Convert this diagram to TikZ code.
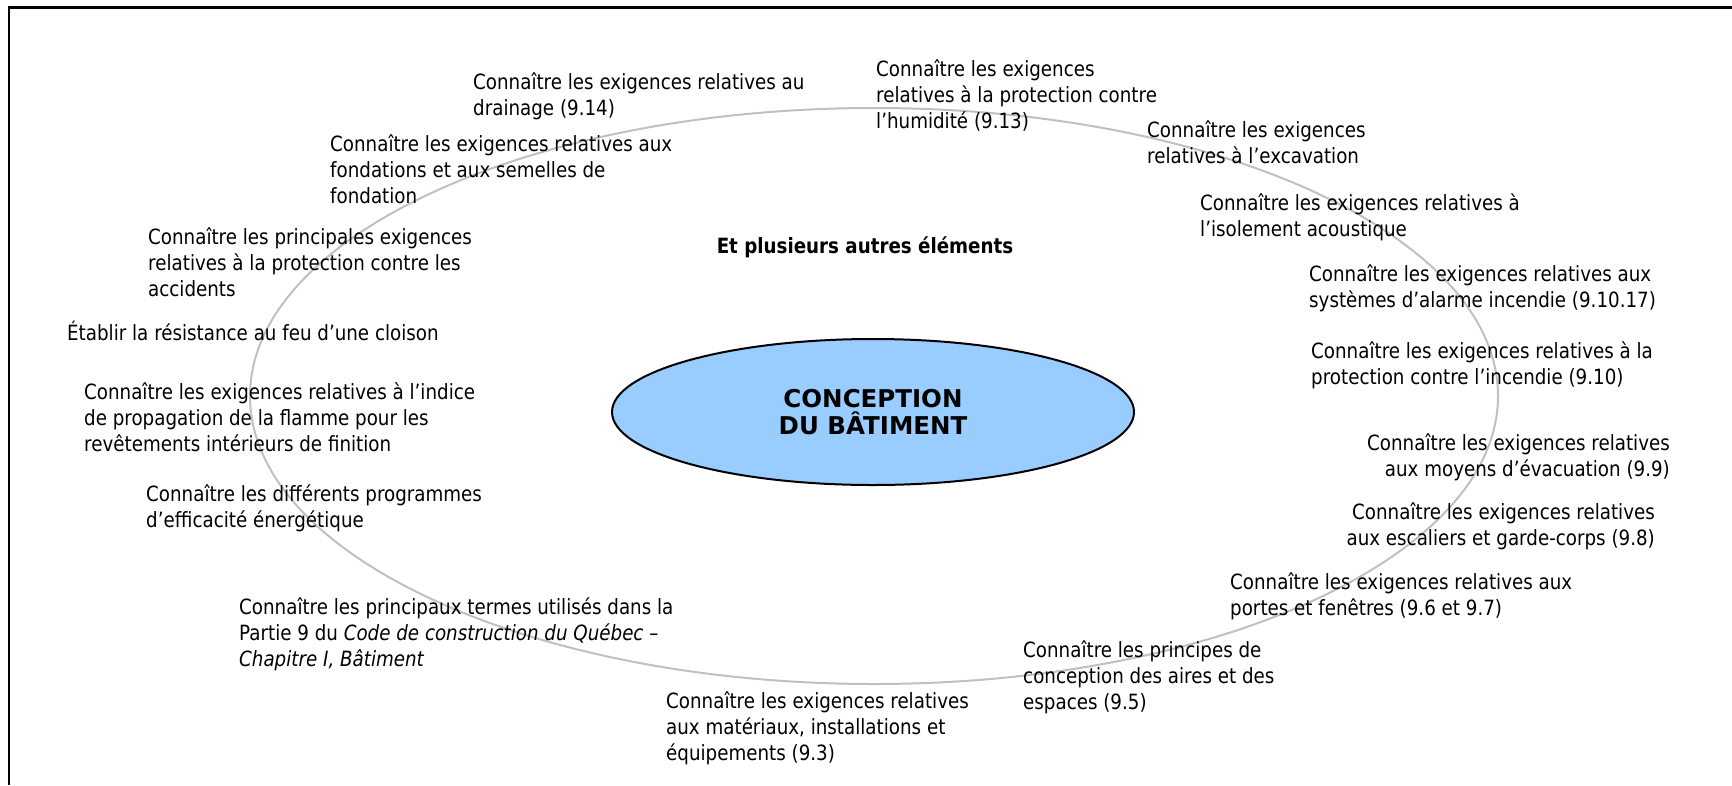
\documentclass[tikz,border=0pt]{standalone}
\usepackage{fontspec}
\setmainfont{DejaVu Sans}[FakeStretch=0.87]
\newfontfamily\corefont{DejaVu Sans}
\usetikzlibrary{shapes.geometric}
\definecolor{ringgrey}{HTML}{C0C0C0}
\definecolor{coreblue}{HTML}{99CCFF}
\begin{document}
\begin{tikzpicture}[x=1pt,y=-1pt,
  lbl/.style={inner sep=0pt, align=left, anchor=north west, font=\fontsize{21}{26}\selectfont},
  lblr/.style={inner sep=0pt, align=right, anchor=north east, font=\fontsize{21}{26}\selectfont},
  ringshape/.style={ellipse, draw=ringgrey, line width=2pt, inner sep=0pt, minimum width=1248pt, minimum height=576pt},
  coreshape/.style={ellipse, draw=black, line width=2pt, fill=coreblue, inner sep=0pt, minimum width=522pt, minimum height=146pt, align=center, font=\corefont\bfseries\fontsize{24.5}{27.5}\selectfont},
  framepen/.style={line width=2.5pt, draw=black}
]
\useasboundingbox (0,0) rectangle (1732,785);
\draw[framepen] (9,785) -- (9,7.5) -- (1732,7.5);
\node[ringshape] (ring) at (874,396) {};
\node[coreshape] (core) at (873,412) {CONCEPTION\\DU BÂTIMENT};
\node[inner sep=0pt, font=\bfseries\fontsize{21}{26}\selectfont] (autres) at (865,247) {Et plusieurs autres éléments};

\node[lbl] (drain) at (473,71.5) {\strut Connaître les exigences relatives au\\drainage (9.14)};
\node[lbl] (humid) at (876,58.5) {\strut Connaître les exigences\\relatives à la protection contre\\l’humidité (9.13)};
\node[lbl] (excav) at (1147,119.5) {\strut Connaître les exigences\\relatives à l’excavation};
\node[lbl] (acous) at (1200,192.5) {\strut Connaître les exigences relatives à\\l’isolement acoustique};
\node[lbl] (alarm) at (1309,263.5) {\strut Connaître les exigences relatives aux\\systèmes d’alarme incendie (9.10.17)};
\node[lbl] (incend) at (1311,340.5) {\strut Connaître les exigences relatives à la\\protection contre l’incendie (9.10)};
\node[lblr] (evac) at (1670,432.5) {\strut Connaître les exigences relatives\\aux moyens d’évacuation (9.9)};
\node[lblr] (escal) at (1655,501.5) {\strut Connaître les exigences relatives\\aux escaliers et garde-corps (9.8)};
\node[lbl] (portes) at (1230,571.5) {\strut Connaître les exigences relatives aux\\portes et fenêtres (9.6 et 9.7)};
\node[lbl] (aires) at (1023,639.5) {\strut Connaître les principes de\\conception des aires et des\\espaces (9.5)};
\node[lbl] (mater) at (666,690.5) {\strut Connaître les exigences relatives\\aux matériaux, installations et\\équipements (9.3)};
\node[lbl] (termes) at (239,596.5) {\strut Connaître les principaux termes utilisés dans la\\Partie 9 du \textit{Code de construction du Québec –}\\\textit{Chapitre I, Bâtiment}};
\node[lbl] (progr) at (146,483.5) {\strut Connaître les différents programmes\\d’efficacité énergétique};
\node[lbl] (indice) at (84,381.5) {\strut Connaître les exigences relatives à l’indice\\de propagation de la flamme pour les\\revêtements intérieurs de finition};
\node[lbl] (cloison) at (67,320.5) {\strut Établir la résistance au feu d’une cloison};
\node[lbl] (accid) at (148,226.5) {\strut Connaître les principales exigences\\relatives à la protection contre les\\accidents};
\node[lbl] (fondat) at (330,133.5) {\strut Connaître les exigences relatives aux\\fondations et aux semelles de\\fondation};
\end{tikzpicture}
\end{document}
